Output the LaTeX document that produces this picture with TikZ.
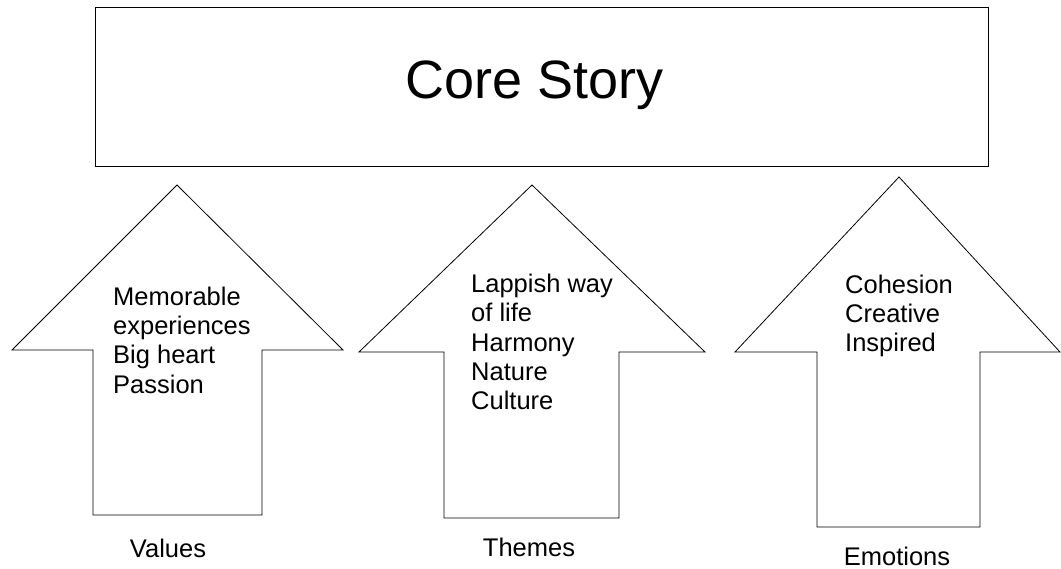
\documentclass[tikz,border=0pt]{standalone}
\usepackage{fontspec}
\setmainfont{Liberation Sans}
\begin{document}
\begin{tikzpicture}[x=1pt,y=-1pt,
  outline/.style={draw=black,line width=0.8pt,line join=miter},
  body/.style={font=\fontsize{25.5}{29.3}\selectfont,align=left,inner sep=0pt,anchor=west},
  caption/.style={font=\fontsize{25.5}{29.3}\selectfont,inner sep=0pt}]
\useasboundingbox[fill=white] (0,0) rectangle (1061,569);

% top box
\node[outline,minimum width=893pt,minimum height=159pt,inner sep=0pt] (core) at (541.5,86.5) {};
\node[font=\fontsize{54}{60}\selectfont,inner sep=0pt] (coretext) at (535,85) {Core Story};

% block arrows: tip, wings, shaft, base
\draw[outline] (177,185) -- (343,350) -- (262,350) -- (262,515) -- (93,515) -- (93,350) -- (12,350) -- cycle;
\draw[outline] (532,185) -- (705,352) -- (619,352) -- (619,518) -- (444,518) -- (444,352) -- (359,352) -- cycle;
\draw[outline] (899,177) -- (1060,352) -- (980,352) -- (980,527) -- (817,527) -- (817,352) -- (735,352) -- cycle;

% texts inside the arrows
\node[body] (values) at (113,340) {Memorable\\experiences\\Big heart\\Passion};
\node[body] (themes) at (471,342) {Lappish way\\of life\\Harmony\\Nature\\Culture};
\node[body] (emotions) at (845,316) {Cohesion\\Creative\\Inspired};

% captions below the arrows
\node[caption] (valueslbl) at (168,548) {Values};
\node[caption] (themeslbl) at (529,547) {Themes};
\node[caption] (emotionslbl) at (897,556) {Emotions};
\end{tikzpicture}
\end{document}
